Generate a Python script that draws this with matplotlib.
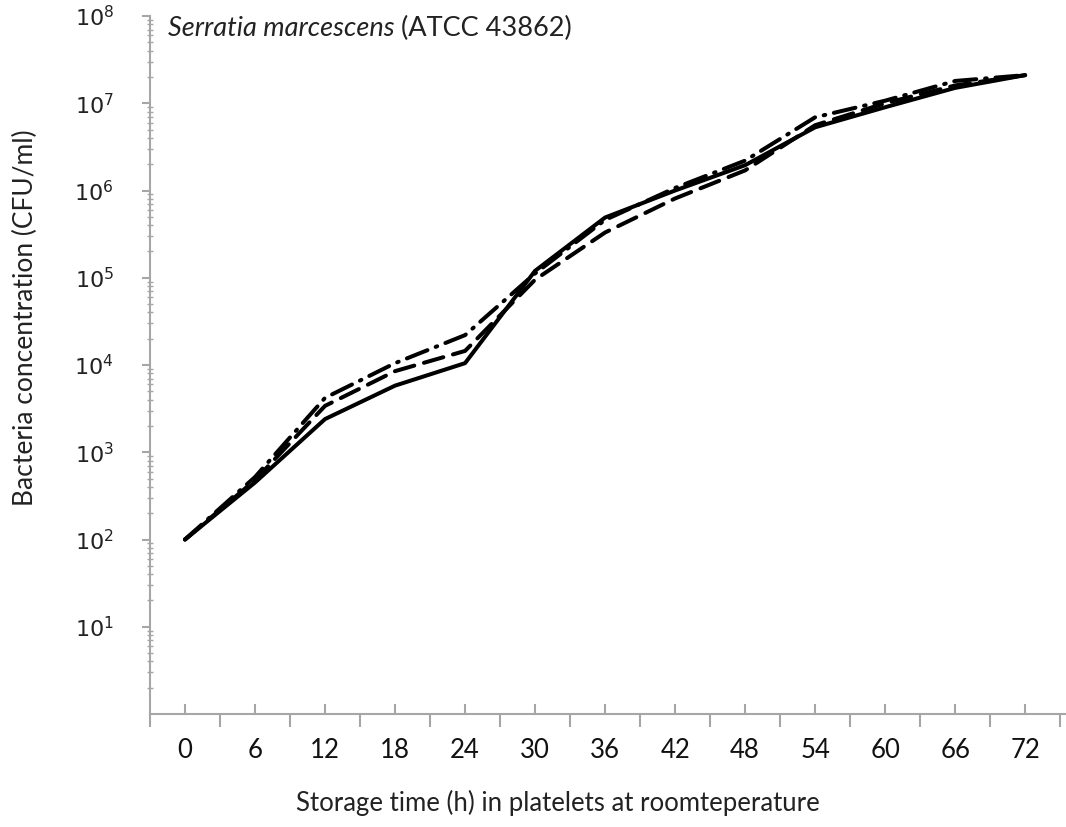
import matplotlib
matplotlib.use("Agg")
import matplotlib.pyplot as plt
from matplotlib.ticker import LogLocator, FixedLocator, NullFormatter

hours = [0, 6, 12, 18, 24, 30, 36, 42, 48, 54, 60, 66, 72]
tick_hours = [0, 6, 12, 18, 24, 30, 36, 42, 48, 54, 60, 66, 72]
series_solid = [1.0e2, 4.5e2, 2.4e3, 5.8e3, 1.05e4, 1.2e5, 4.9e5, 1.0e6, 1.95e6, 5.3e6, 9.0e6, 1.5e7, 2.1e7]
series_dashed = [1.0e2, 4.8e2, 3.4e3, 8.5e3, 1.45e4, 9.5e4, 3.3e5, 8.1e5, 1.7e6, 5.6e6, 1.0e7, 1.6e7, 2.1e7]
series_dashdot = [1.0e2, 5.2e2, 4.2e3, 1.05e4, 2.2e4, 1.12e5, 4.6e5, 1.07e6, 2.2e6, 6.9e6, 1.07e7, 1.8e7, 2.1e7]
y_exponents = [1, 2, 3, 4, 5, 6, 7, 8]

plt.rcParams['font.family'] = ['Lato', 'DejaVu Sans']

W, H = 1066, 827
fig = plt.figure(figsize=(W / 100, H / 100), dpi=100)
ax = fig.add_axes([150/W, (H-714)/H, (W-150)/W, (714-16)/H])

ax.plot(hours, series_solid, color='black', lw=2.9, solid_capstyle='round', solid_joinstyle='round')
ax.plot(hours, series_dashed, color='black', lw=2.9, linestyle=(0, (5, 2.5)), dash_capstyle='round')
ax.plot(hours, series_dashdot, color='black', lw=2.9, linestyle=(0, (5.5, 2.2, 0.4, 2.2)), dash_capstyle='round')

ax.set_yscale('log')
ax.set_ylim(1, 1e8)
ax.set_xlim(-3, 75.5)

gray = '#a6a6a6'
for s in ['top', 'right']:
    ax.spines[s].set_visible(False)
for s in ['left', 'bottom']:
    ax.spines[s].set_color(gray)
    ax.spines[s].set_linewidth(1.5)

ax.yaxis.set_major_locator(FixedLocator([10.0**e for e in y_exponents]))
ax.set_yticklabels([f'$10^{{{e}}}$' for e in y_exponents])
ax.yaxis.set_minor_locator(LogLocator(base=10, subs=range(2, 10), numticks=20))
ax.yaxis.set_minor_formatter(NullFormatter())
ax.tick_params(axis='y', which='major', direction='out', length=6, width=1.5, color=gray,
               labelsize=16, labelcolor='#222222', pad=20)
ax.tick_params(axis='y', which='minor', direction='inout', length=5, width=1.0, color=gray)

ax.set_xticks(tick_hours)
ax.set_xticklabels([str(h) for h in tick_hours])
ax.xaxis.set_minor_locator(FixedLocator([h + 3 for h in [-6] + tick_hours]))
ax.tick_params(axis='x', which='major', direction='in', length=7, width=1.5, color=gray,
               labelsize=18.5, labelcolor='#111111', pad=17)
ax.tick_params(axis='x', which='minor', direction='out', length=9, width=1.5, color=gray)

fig.text(558/W, 1 - 803/H, 'Storage time (h) in platelets at roomteperature', fontsize=18.5,
         ha='center', va='center', color='#222222')
fig.text(25/W, 1 - 318/H, 'Bacteria concentration (CFU/ml)', fontsize=19, rotation=90,
         ha='center', va='center', color='#222222')

title_y = 1 - 28/H
t1 = fig.text(168/W, title_y, 'Serratia marcescens', fontsize=19.5,
              va='center', ha='left', style='italic', color='#222222')
renderer = fig.canvas.get_renderer()
bb = t1.get_window_extent(renderer=renderer)
fig.text(bb.x1 / fig.bbox.width + 6/W, title_y, '(ATCC 43862)', fontsize=19.5,
         va='center', ha='left', color='#222222')

fig.savefig('out.png', dpi=100)
